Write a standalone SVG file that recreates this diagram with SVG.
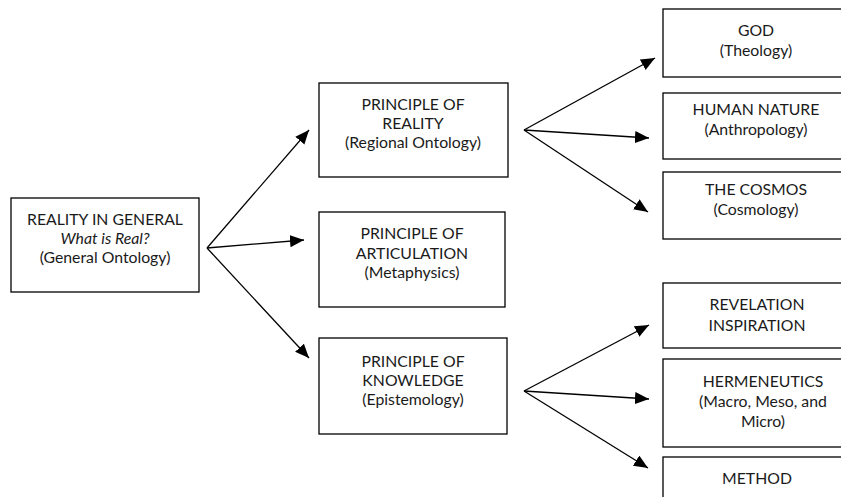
<svg xmlns="http://www.w3.org/2000/svg" width="841" height="497" viewBox="0 0 841 497">
<style>
rect{fill:#fff;stroke:#000;stroke-width:1.3}
text{font-family:Lato,"Open Sans","Liberation Sans",sans-serif;font-size:15.8px;fill:#1a1a1a;text-anchor:middle}
.c line{stroke:#000;stroke-width:1.3;marker-end:url(#ah)}
</style>
<defs>
<marker id="ah" markerUnits="userSpaceOnUse" markerWidth="16" markerHeight="14" refX="14" refY="6" orient="auto">
<path d="M0,0 L14,6 L0,12 Z" fill="#000"/>
</marker>
</defs>
<g class="c" id="connectors">
<line x1="207" y1="248" x2="309" y2="130"/>
<line x1="207" y1="248" x2="304" y2="240"/>
<line x1="207" y1="248" x2="309" y2="358"/>
<line x1="524" y1="130" x2="655" y2="58"/>
<line x1="524" y1="130" x2="649" y2="138"/>
<line x1="524" y1="130" x2="648" y2="212"/>
<line x1="524" y1="391" x2="649" y2="325"/>
<line x1="524" y1="391" x2="649" y2="399"/>
<line x1="524" y1="391" x2="648" y2="468"/>
</g>
<g id="reality-general">
<rect x="11" y="198" width="188" height="94"/>
<text x="105" y="225">REALITY IN GENERAL</text>
<text x="105" y="244" font-style="italic">What is Real?</text>
<text x="105" y="263">(General Ontology)</text>
</g>
<g id="principle-reality">
<rect x="319" y="83" width="189" height="94"/>
<text x="413" y="110">PRINCIPLE OF</text>
<text x="413" y="129">REALITY</text>
<text x="413" y="148">(Regional Ontology)</text>
</g>
<g id="principle-articulation">
<rect x="319" y="212" width="186" height="95"/>
<text x="412" y="239">PRINCIPLE OF</text>
<text x="412" y="259">ARTICULATION</text>
<text x="412" y="278">(Metaphysics)</text>
</g>
<g id="principle-knowledge">
<rect x="319" y="338" width="188" height="96"/>
<text x="413" y="367">PRINCIPLE OF</text>
<text x="413" y="386">KNOWLEDGE</text>
<text x="413" y="405">(Epistemology)</text>
</g>
<g id="god">
<rect x="663" y="9" width="190" height="68"/>
<text x="756" y="36">GOD</text>
<text x="756" y="56">(Theology)</text>
</g>
<g id="human-nature">
<rect x="663" y="93" width="190" height="66"/>
<text x="756" y="115">HUMAN NATURE</text>
<text x="756" y="135">(Anthropology)</text>
</g>
<g id="cosmos">
<rect x="663" y="172" width="190" height="67"/>
<text x="756" y="195">THE COSMOS</text>
<text x="756" y="215">(Cosmology)</text>
</g>
<g id="revelation">
<rect x="663" y="283" width="190" height="65"/>
<text x="757" y="310">REVELATION</text>
<text x="757" y="331">INSPIRATION</text>
</g>
<g id="hermeneutics">
<rect x="663" y="359" width="190" height="88"/>
<text x="763" y="387">HERMENEUTICS</text>
<text x="763" y="407">(Macro, Meso, and</text>
<text x="763" y="427">Micro)</text>
</g>
<g id="method">
<rect x="663" y="457" width="190" height="60"/>
<text x="757" y="484">METHOD</text>
</g>
</svg>
